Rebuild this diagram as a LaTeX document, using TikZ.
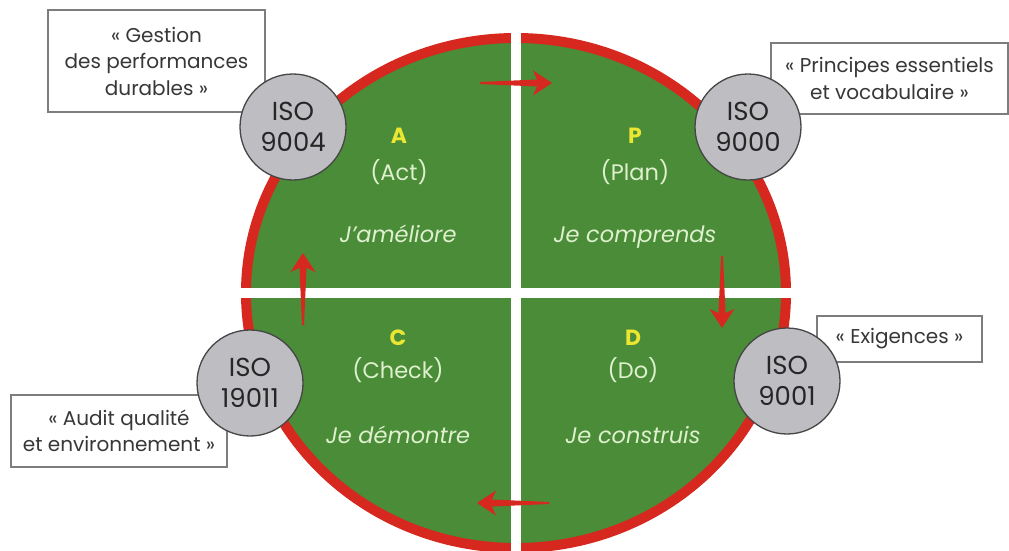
\documentclass[tikz,border=0pt]{standalone}
\usepackage{fontspec}
\setmainfont{Poppins}
\definecolor{pdcagreen}{RGB}{74,140,56}
\definecolor{ringred}{RGB}{214,40,30}
\definecolor{isogray}{RGB}{190,190,194}
\definecolor{isoedge}{RGB}{70,70,70}
\definecolor{boxedge}{RGB}{125,125,125}
\definecolor{boxtext}{RGB}{55,55,55}
\definecolor{quadtext}{RGB}{222,240,205}
\definecolor{stepyellow}{RGB}{235,230,50}
\begin{document}
\begin{tikzpicture}[x=1pt,y=-1pt,
  gapline/.style={white, line width=10pt},
  stepletter/.style={anchor=base, text=stepyellow, font=\fontsize{22}{24}\selectfont\bfseries},
  stepname/.style={anchor=base, text=quadtext, font=\fontsize{22.5}{28}\selectfont},
  stepverb/.style={anchor=base, text=quadtext, font=\fontsize{22.5}{28}\selectfont\itshape},
  isodisc/.style={circle, draw=isoedge, line width=1.3pt, fill=isogray, minimum size=106pt,
    inner sep=0pt, align=center, text=black!85, font=\fontsize{26}{31}\selectfont},
  notebox/.style={draw=boxedge, line width=1.2pt, fill=white, align=center, inner sep=2pt,
    text=boxtext, font=\fontsize{20}{26.5}\selectfont},
  cycarrow/.pic={\fill[ringred] (0,0) -- (-19,-12.5) -- (-15,-3.5) -- (-72,-1) -- (-72,1)
    -- (-15,3.5) -- (-19,12.5) -- cycle;}
]
\useasboundingbox (0,0) rectangle (1009,551);

% green disc with its red rim
\fill[pdcagreen] (516,293) ellipse [x radius=270, y radius=255];
\draw[ringred, line width=10pt] (516,293) ellipse [x radius=270, y radius=255];

% white cross splitting the disc into four quarters
\draw[gapline] (516,25) -- (516,560);
\draw[gapline] (236,293) -- (798,293);

% quarter labels
\node[stepletter] (la) at (399,143) {A};
\node[stepname]   (na) at (399,180) {(Act)};
\node[stepverb]   (va) at (398,242) {J’améliore};

\node[stepletter] (lp) at (635,143) {P};
\node[stepname]   (np) at (635,180) {(Plan)};
\node[stepverb]   (vp) at (635,242) {Je comprends};

\node[stepletter] (lc) at (398,345) {C};
\node[stepname]   (nc) at (398,378) {(Check)};
\node[stepverb]   (vc) at (398,443) {Je démontre};

\node[stepletter] (ld) at (633,345) {D};
\node[stepname]   (nd) at (633,378) {(Do)};
\node[stepverb]   (vd) at (633,443) {Je construis};

% cycle arrows (tip positions)
\coordinate (tipAP) at (552,83);
\coordinate (tipPD) at (722,328);
\coordinate (tipDC) at (477,503);
\coordinate (tipCA) at (303,253);
\pic[rotate=0]   at (tipAP) {cycarrow};
\pic[rotate=-90] at (tipPD) {cycarrow};
\pic[rotate=180] at (tipDC) {cycarrow};
\pic[rotate=90]  at (tipCA) {cycarrow};

% caption boxes
\node[notebox, minimum width=217pt, minimum height=102pt] (b9004) at (156.5,61)
  {«~Gestion\\des performances\\durables~»};
\node[notebox, minimum width=237pt, minimum height=71pt] (b9000) at (889.5,78.5)
  {«~Principes essentiels\\et vocabulaire~»};
\node[notebox, minimum width=165pt, minimum height=46pt] (b9001) at (899.5,339)
  {«~Exigences~»};
\node[notebox, minimum width=216pt, minimum height=72pt] (b19011) at (119,431)
  {«~Audit qualité\\et environnement~»};

% standard discs
\node[isodisc] (iso9004)  at (293,127) {ISO\\9004};
\node[isodisc] (iso9000)  at (748,127) {ISO\\9000};
\node[isodisc] (iso9001)  at (787,381) {ISO\\9001};
\node[isodisc] (iso19011) at (250,383) {ISO\\19011};
\end{tikzpicture}
\end{document}
